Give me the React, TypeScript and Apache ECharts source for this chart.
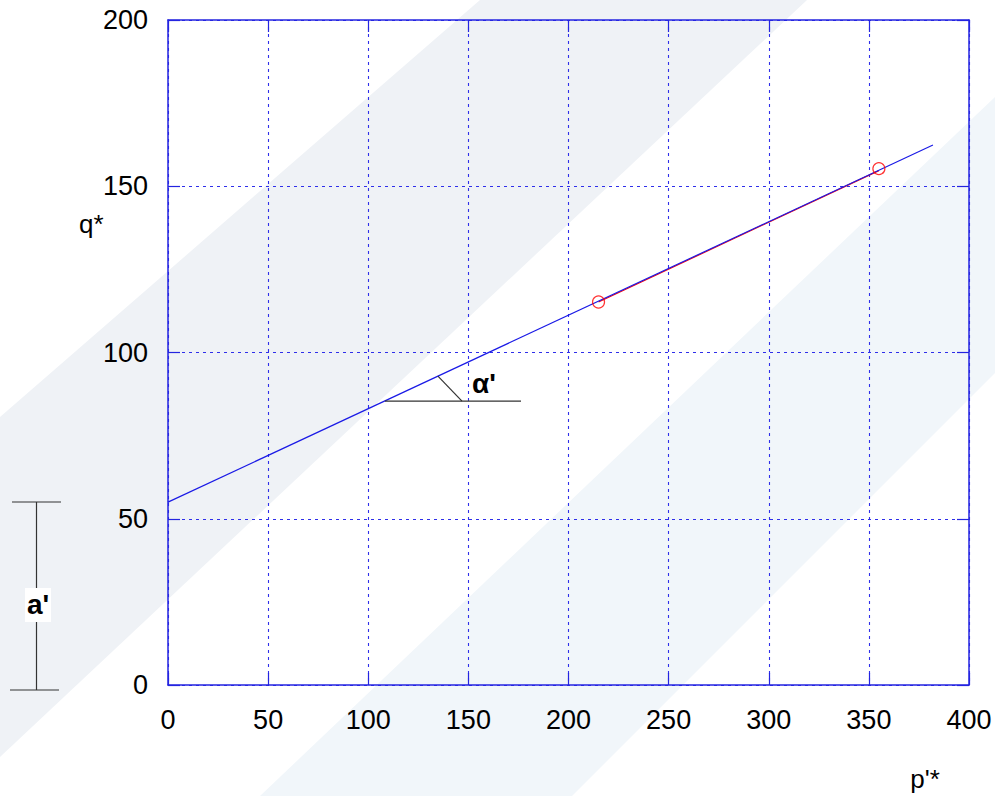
import React, { useEffect, useRef } from "react";
import * as echarts from "echarts";

// ---- data ----
const xRange = [0, 400];
const yRange = [0, 200];
const tickStep = 50;
const fitLine = [
  [0, 55],
  [382, 162.4],
];
const redSegment = [
  [215, 115.2],
  [355, 154.7],
];
const measuredPoints = [
  [215, 115.2],
  [355, 155.3],
];
const angleBase = [
  [108.3, 85.4],
  [176.3, 85.4],
];
const angleArc = [
  [134.8, 92.9],
  [146.8, 85.4],
];
const xName = "p'*";
const yName = "q*";
const angleLabel = "α'";
const interceptLabel = "a'";

const FONT = "'Liberation Sans', Arial, Helvetica, sans-serif";

export default function App() {
  const ref = useRef<HTMLDivElement>(null);

  useEffect(() => {
    if (!ref.current) return;
    const chart = echarts.init(ref.current, undefined, { renderer: "svg" });
    const axisColor = "#2424e0";
    const gridColor = "#2f2fea";

    const baseX = {
      type: "value",
      min: xRange[0],
      max: xRange[1],
      interval: tickStep,
      axisLine: { show: true, onZero: false, lineStyle: { color: axisColor, width: 1.5 } },
      axisTick: { show: true, inside: true, length: 12, lineStyle: { color: axisColor, width: 1.2 } },
    };
    const baseY = {
      type: "value",
      min: yRange[0],
      max: yRange[1],
      interval: tickStep,
      axisLine: { show: true, onZero: false, lineStyle: { color: axisColor, width: 1.5 } },
      axisTick: { show: true, inside: true, length: 12, lineStyle: { color: axisColor, width: 1.2 } },
    };

    chart.setOption({
      animation: false,
      backgroundColor: "#ffffff",
      grid: { left: 168, right: 26, top: 20, bottom: 111, containLabel: false },
      xAxis: [
        {
          ...baseX,
          position: "bottom",
          axisLabel: { color: "#000", fontSize: 27, margin: 21, fontFamily: FONT },
          splitLine: { show: true, lineStyle: { color: gridColor, type: [3, 4], width: 1.1 } },
        },
        {
          ...baseX,
          position: "top",
          axisLabel: { show: false },
          splitLine: { show: false },
        },
      ],
      yAxis: [
        {
          ...baseY,
          position: "left",
          axisLabel: { color: "#000", fontSize: 27, margin: 20, fontFamily: FONT },
          splitLine: { show: true, lineStyle: { color: gridColor, type: [3, 4], width: 1.1 } },
        },
        {
          ...baseY,
          position: "right",
          axisLabel: { show: false },
          splitLine: { show: false },
        },
      ],
      series: [
        {
          type: "line",
          data: redSegment,
          symbol: "none",
          lineStyle: { color: "#ff0000", width: 1.2 },
          z: 3,
        },
        {
          type: "line",
          data: fitLine,
          symbol: "none",
          lineStyle: { color: "#1a1ae6", width: 1.2 },
          z: 4,
        },
        {
          type: "line",
          data: angleBase,
          symbol: "none",
          lineStyle: { color: "#333333", width: 1.2 },
          z: 4,
        },
        {
          type: "line",
          data: angleArc,
          symbol: "none",
          lineStyle: { color: "#333333", width: 1.2 },
          z: 4,
        },
        {
          type: "scatter",
          data: measuredPoints,
          symbol: "circle",
          symbolSize: 12,
          itemStyle: { color: "rgba(255,255,255,0)", borderColor: "#ff0000", borderWidth: 1.2 },
          z: 5,
        },
      ],
      graphic: [
        {
          type: "polygon",
          silent: true,
          z: -10,
          shape: { points: [[480, 0], [807, 0], [0, 757], [0, 417]] },
          style: { fill: "#eff2f6" },
        },
        {
          type: "polygon",
          silent: true,
          z: -10,
          shape: { points: [[995, 97], [995, 373], [572, 796], [260, 796]] },
          style: { fill: "#f1f6fa" },
        },
        // intercept bracket
        {
          type: "line",
          silent: true,
          z: 10,
          shape: { x1: 12, y1: 502, x2: 61, y2: 502 },
          style: { stroke: "#333", lineWidth: 1.2 },
        },
        {
          type: "line",
          silent: true,
          z: 10,
          shape: { x1: 10, y1: 690, x2: 59, y2: 690 },
          style: { stroke: "#333", lineWidth: 1.2 },
        },
        {
          type: "line",
          silent: true,
          z: 10,
          shape: { x1: 36.5, y1: 502, x2: 36.5, y2: 690 },
          style: { stroke: "#333", lineWidth: 1.2 },
        },
        {
          type: "rect",
          silent: true,
          z: 11,
          shape: { x: 25, y: 588, width: 26, height: 34 },
          style: { fill: "#ffffff" },
        },
        {
          type: "text",
          silent: true,
          z: 12,
          x: 38,
          y: 604,
          style: {
            text: interceptLabel,
            fill: "#000",
            font: `bold 28px ${FONT}`,
            textAlign: "center",
            textVerticalAlign: "middle",
          },
        },
        {
          type: "text",
          silent: true,
          z: 12,
          x: 472,
          y: 383,
          style: {
            text: angleLabel,
            fill: "#000",
            font: `bold 28px ${FONT}`,
            textAlign: "left",
            textVerticalAlign: "middle",
          },
        },
        {
          type: "text",
          silent: true,
          z: 12,
          x: 79,
          y: 224,
          style: {
            text: yName,
            fill: "#000",
            font: `26px ${FONT}`,
            textAlign: "left",
            textVerticalAlign: "middle",
          },
        },
        {
          type: "text",
          silent: true,
          z: 12,
          x: 925,
          y: 779,
          style: {
            text: xName,
            fill: "#000",
            font: `26px ${FONT}`,
            textAlign: "center",
            textVerticalAlign: "middle",
          },
        },
      ],
    });

    return () => chart.dispose();
  }, []);

  return (
    <div
      ref={ref}
      style={{ position: "absolute", left: 0, top: 0, width: 995, height: 796 }}
    />
  );
}
